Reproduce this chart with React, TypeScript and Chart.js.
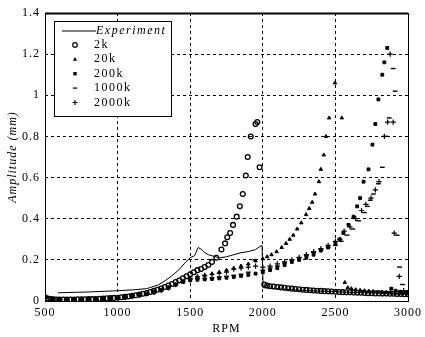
import React, { useEffect, useRef } from 'react';
import { Chart, registerables } from 'chart.js';

Chart.register(...registerables);

type Pt = [number, number];

const xTicks = [500, 1000, 1500, 2000, 2500, 3000];
const yTicks = [0, 0.2, 0.4, 0.6, 0.8, 1, 1.2, 1.4];
const seriesNames = ['Experiment', '2k', '20k', '200k', '1000k', '2000k'];

const experiment: Pt[] = [
  [590, 0.04], [700, 0.042], [800, 0.044], [900, 0.047], [1000, 0.05], [1100, 0.054], [1200, 0.06],
  [1280, 0.078], [1330, 0.1], [1370, 0.12], [1420, 0.15], [1470, 0.19], [1500, 0.21], [1530, 0.22],
  [1555, 0.26], [1580, 0.25], [1600, 0.235], [1625, 0.225], [1650, 0.22], [1700, 0.21], [1750, 0.215],
  [1800, 0.225], [1850, 0.235], [1900, 0.24], [1950, 0.25], [1980, 0.265], [1995, 0.27], [2002, 0.065],
  [2100, 0.06], [2200, 0.055], [2300, 0.05], [2400, 0.048], [2500, 0.045], [2600, 0.042], [2700, 0.04],
  [2800, 0.038], [2900, 0.035], [3000, 0.033],
];

const s2k: Pt[] = [
  [500, 0.018], [520, 0.012], [540, 0.009], [560, 0.008], [580, 0.007], [600, 0.007], [625, 0.007],
  [650, 0.007], [675, 0.007], [700, 0.007], [725, 0.008], [750, 0.008], [775, 0.008], [800, 0.009],
  [825, 0.009], [850, 0.01], [875, 0.011], [900, 0.012], [925, 0.013], [950, 0.014], [975, 0.015],
  [1000, 0.016], [1025, 0.018], [1050, 0.02], [1075, 0.022], [1100, 0.025], [1125, 0.028], [1150, 0.031],
  [1175, 0.035], [1200, 0.039], [1225, 0.044], [1250, 0.049], [1275, 0.055], [1300, 0.061], [1325, 0.068],
  [1350, 0.075], [1375, 0.083], [1400, 0.092], [1425, 0.1], [1450, 0.11], [1475, 0.12], [1500, 0.13],
  [1525, 0.14], [1550, 0.15], [1575, 0.155], [1600, 0.165], [1625, 0.175], [1650, 0.19], [1680, 0.21],
  [1715, 0.25], [1740, 0.28], [1755, 0.31], [1775, 0.33], [1795, 0.37], [1820, 0.41], [1842, 0.46],
  [1862, 0.52], [1883, 0.61], [1896, 0.7], [1917, 0.8], [1950, 0.86], [1962, 0.87], [1978, 0.65],
  [2010, 0.08], [2030, 0.075], [2050, 0.072], [2075, 0.07], [2100, 0.068], [2125, 0.066], [2150, 0.064],
  [2175, 0.062], [2200, 0.06], [2225, 0.058], [2250, 0.057], [2275, 0.055], [2300, 0.054], [2325, 0.052],
  [2350, 0.051], [2375, 0.05], [2400, 0.049], [2425, 0.048], [2450, 0.047], [2475, 0.046], [2500, 0.045],
  [2525, 0.044], [2550, 0.043], [2575, 0.042], [2600, 0.042], [2625, 0.041], [2650, 0.04], [2675, 0.04],
  [2700, 0.039], [2725, 0.038], [2750, 0.038], [2775, 0.037], [2800, 0.037], [2825, 0.036], [2850, 0.036],
  [2875, 0.035], [2900, 0.035], [2925, 0.034], [2950, 0.034], [2975, 0.033], [3000, 0.033],
];

const s20k: Pt[] = [
  [500, 0.012], [550, 0.006], [600, 0.005], [650, 0.005], [700, 0.005], [750, 0.005], [800, 0.006],
  [850, 0.008], [900, 0.01], [950, 0.012], [1000, 0.015], [1050, 0.018], [1100, 0.022], [1150, 0.027],
  [1200, 0.033], [1250, 0.04], [1300, 0.05], [1350, 0.062], [1400, 0.078], [1450, 0.095], [1500, 0.11],
  [1550, 0.118], [1600, 0.125], [1650, 0.132], [1700, 0.14], [1750, 0.15], [1800, 0.16], [1850, 0.17],
  [1900, 0.18], [1950, 0.195], [2000, 0.205], [2030, 0.215], [2060, 0.225], [2095, 0.24], [2130, 0.26],
  [2160, 0.28], [2185, 0.3], [2210, 0.32], [2237, 0.35], [2265, 0.38], [2298, 0.42], [2320, 0.45],
  [2340, 0.48], [2360, 0.52], [2387, 0.58], [2400, 0.64], [2420, 0.71], [2435, 0.8], [2457, 0.89],
  [2497, 1.06], [2544, 0.89], [2565, 0.09], [2585, 0.065], [2610, 0.06], [2640, 0.055], [2670, 0.052],
  [2700, 0.05], [2730, 0.048], [2760, 0.046], [2790, 0.044], [2820, 0.043], [2850, 0.042], [2880, 0.04],
  [2910, 0.039], [2940, 0.038], [2970, 0.037], [3000, 0.036],
];

const s200k: Pt[] = [
  [500, 0.02], [550, 0.009], [600, 0.007], [650, 0.006], [700, 0.006], [750, 0.007], [800, 0.008],
  [850, 0.009], [900, 0.011], [950, 0.013], [1000, 0.016], [1050, 0.02], [1100, 0.024], [1150, 0.029],
  [1200, 0.035], [1250, 0.043], [1300, 0.053], [1350, 0.065], [1400, 0.08], [1450, 0.092], [1500, 0.1],
  [1550, 0.103], [1600, 0.105], [1650, 0.107], [1700, 0.11], [1750, 0.113], [1800, 0.117], [1850, 0.122],
  [1900, 0.127], [1950, 0.133], [2000, 0.14], [2050, 0.15], [2100, 0.16], [2150, 0.175], [2200, 0.19],
  [2250, 0.2], [2300, 0.21], [2350, 0.225], [2400, 0.245], [2450, 0.26], [2500, 0.28], [2530, 0.3],
  [2555, 0.33], [2590, 0.37], [2625, 0.41], [2650, 0.46], [2670, 0.5], [2694, 0.58], [2728, 0.64],
  [2755, 0.76], [2775, 0.86], [2796, 0.98], [2823, 1.1], [2837, 1.16], [2857, 1.23], [2885, 0.06],
  [2915, 0.05], [2945, 0.045], [2975, 0.04], [3000, 0.038],
];

const s1000k: Pt[] = [
  [500, 0.015], [550, 0.008], [600, 0.006], [650, 0.006], [700, 0.006], [750, 0.006], [800, 0.007],
  [850, 0.009], [900, 0.011], [950, 0.013], [1000, 0.017], [1050, 0.021], [1100, 0.025], [1150, 0.03],
  [1200, 0.036], [1250, 0.044], [1300, 0.055], [1350, 0.067], [1400, 0.082], [1450, 0.094], [1500, 0.104],
  [1550, 0.108], [1600, 0.11], [1650, 0.113], [1700, 0.117], [1750, 0.12], [1800, 0.125], [1850, 0.13],
  [1900, 0.14], [1944, 0.2], [2000, 0.15], [2050, 0.16], [2100, 0.17], [2150, 0.185], [2200, 0.2],
  [2250, 0.21], [2300, 0.22], [2350, 0.235], [2400, 0.25], [2450, 0.26], [2500, 0.27], [2540, 0.29],
  [2580, 0.32], [2620, 0.35], [2660, 0.39], [2700, 0.43], [2720, 0.46], [2740, 0.49], [2762, 0.52],
  [2796, 0.57], [2823, 0.65], [2850, 0.8], [2871, 0.89], [2898, 1.13], [2911, 1.02], [2925, 0.32],
  [2942, 0.165], [2962, 0.08], [2985, 0.05], [3000, 0.045],
];

const s2000k: Pt[] = [
  [500, 0.016], [550, 0.008], [600, 0.006], [650, 0.005], [700, 0.005], [750, 0.006], [800, 0.007],
  [850, 0.008], [900, 0.01], [950, 0.012], [1000, 0.015], [1050, 0.019], [1100, 0.023], [1150, 0.028],
  [1200, 0.034], [1250, 0.042], [1300, 0.052], [1350, 0.064], [1400, 0.079], [1450, 0.096], [1500, 0.11],
  [1550, 0.118], [1600, 0.125], [1650, 0.13], [1700, 0.135], [1750, 0.14], [1800, 0.155], [1850, 0.16],
  [1900, 0.165], [1950, 0.17], [2000, 0.165], [2050, 0.17], [2100, 0.18], [2150, 0.19], [2200, 0.2],
  [2250, 0.212], [2300, 0.225], [2350, 0.24], [2400, 0.255], [2450, 0.27], [2500, 0.29], [2530, 0.3],
  [2560, 0.34], [2600, 0.36], [2640, 0.4], [2680, 0.44], [2710, 0.47], [2745, 0.5], [2775, 0.54],
  [2800, 0.58], [2837, 0.8], [2860, 0.87], [2877, 1.2], [2898, 0.87], [2905, 0.33], [2940, 0.12],
  [2970, 0.05], [3000, 0.04],
];

const toXY = (pts: Pt[]) => pts.map(([x, y]) => ({ x, y }));

const fmtY = (v: number) => String(Number(v.toFixed(1)));

function drawMarker(ctx: CanvasRenderingContext2D, kind: string, x: number, y: number) {
  ctx.save();
  ctx.strokeStyle = '#000';
  ctx.fillStyle = '#000';
  ctx.lineWidth = 1.2;
  ctx.beginPath();
  if (kind === 'circle') {
    ctx.arc(x, y, 2.3, 0, Math.PI * 2);
    ctx.stroke();
  } else if (kind === 'triangle') {
    ctx.moveTo(x, y - 2.2);
    ctx.lineTo(x + 2, y + 1.4);
    ctx.lineTo(x - 2, y + 1.4);
    ctx.closePath();
    ctx.fill();
  } else if (kind === 'rect') {
    ctx.fillRect(x - 1.7, y - 1.7, 3.4, 3.4);
  } else if (kind === 'line') {
    ctx.moveTo(x - 2.2, y);
    ctx.lineTo(x + 2.2, y);
    ctx.stroke();
  } else if (kind === 'cross') {
    ctx.moveTo(x - 2.5, y);
    ctx.lineTo(x + 2.5, y);
    ctx.moveTo(x, y - 2.5);
    ctx.lineTo(x, y + 2.5);
    ctx.stroke();
  }
  ctx.restore();
}

const markerKinds = ['line', 'circle', 'triangle', 'rect', 'line', 'cross'];

const spacingPlugin = {
  id: 'spacing',
  beforeDraw(chart: any) {
    try { (chart.ctx as any).letterSpacing = '1px'; } catch (e) { /* ignore */ }
  },
};

const framePlugin = {
  id: 'frameLegend',
  afterDatasetsDraw(chart: any) {
    const ctx: CanvasRenderingContext2D = chart.ctx;
    const a = chart.chartArea;
    ctx.save();
    ctx.strokeStyle = '#000';
    ctx.lineWidth = 1;
    const l = Math.round(a.left), t = Math.round(a.top), r = Math.round(a.right), b = Math.round(a.bottom);
    ctx.strokeRect(l + 0.5, t + 0.5, r - l, b - t);
    ctx.lineWidth = 2;
    ctx.beginPath();
    ctx.moveTo(l, t + 0.5);
    ctx.lineTo(r, t + 0.5);
    ctx.stroke();

    const lx = l + 9, ly = t + 8, lw = 117, lh = 95;
    ctx.fillStyle = '#fff';
    ctx.fillRect(lx, ly, lw, lh);
    ctx.lineWidth = 1;
    ctx.strokeRect(lx + 0.5, ly + 0.5, lw, lh);

    (ctx as any).letterSpacing = '1.5px';
    ctx.textBaseline = 'middle';
    ctx.textAlign = 'left';
    ctx.fillStyle = '#000';
    seriesNames.forEach((name, i) => {
      const y = ly + 9.5 + i * 14.4;
      if (i === 0) {
        ctx.beginPath();
        ctx.moveTo(lx + 8, y + 0.5);
        ctx.lineTo(lx + 42, y + 0.5);
        ctx.stroke();
        ctx.font = 'italic 12px "Liberation Serif"';
        ctx.fillText(name, lx + 42, y);
      } else {
        drawMarker(ctx, markerKinds[i], lx + 21, y);
        ctx.font = '12px "Liberation Serif"';
        ctx.fillText(name, lx + 40, y);
      }
    });
    ctx.restore();
  },
};

export default function App() {
  const ref = useRef<HTMLCanvasElement | null>(null);

  useEffect(() => {
    document.body.style.margin = '0';
    const canvas = ref.current;
    if (!canvas) return;
    const pointDs = (label: string, pts: Pt[], style: string, radius: number, filled: boolean, bw: number) => ({
      label,
      data: toXY(pts),
      showLine: false,
      pointStyle: style,
      pointRadius: radius,
      pointBorderWidth: bw,
      borderColor: '#000',
      pointBorderColor: '#000',
      pointBackgroundColor: filled ? '#000' : 'rgba(0,0,0,0)',
      backgroundColor: filled ? '#000' : 'rgba(0,0,0,0)',
    });
    const chart = new Chart(canvas, {
      type: 'scatter',
      data: {
        datasets: [
          {
            label: seriesNames[0],
            data: toXY(experiment),
            showLine: true,
            borderColor: '#000',
            borderWidth: 1,
            pointRadius: 0,
            tension: 0,
          } as any,
          pointDs(seriesNames[1], s2k, 'circle', 2.4, false, 1.3),
          pointDs(seriesNames[2], s20k, 'triangle', 2, true, 1),
          pointDs(seriesNames[3], s200k, 'rect', 2, true, 1),
          pointDs(seriesNames[4], s1000k, 'line', 2.4, true, 1.4),
          pointDs(seriesNames[5], s2000k, 'cross', 2.6, true, 1.2),
        ],
      },
      options: {
        animation: false,
        responsive: false,
        devicePixelRatio: 1,
        layout: { padding: { top: 13, right: 13, bottom: 0, left: 0 } },
        plugins: { legend: { display: false }, tooltip: { enabled: false } },
        scales: {
          x: {
            type: 'linear',
            min: 500,
            max: 3000,
            afterBuildTicks: (s: any) => { s.ticks = xTicks.map((v) => ({ value: v })); },
            afterFit: (s: any) => { s.height = 36; },
            grid: { color: '#000', lineWidth: 1, drawTicks: false },
            border: { display: false, dash: [3, 3] },
            ticks: {
              color: '#000',
              padding: 5,
              maxRotation: 0,
              font: { family: '"Liberation Serif"', size: 12 },
              callback: (v: any) => String(v),
            },
            title: {
              display: true,
              text: 'RPM',
              color: '#000',
              font: { family: '"Liberation Serif"', size: 12 },
              padding: { top: 0, bottom: 1 },
            },
          },
          y: {
            type: 'linear',
            min: 0,
            max: 1.4,
            afterBuildTicks: (s: any) => { s.ticks = yTicks.map((v) => ({ value: v })); },
            afterFit: (s: any) => { s.width = 45; },
            grid: { color: '#000', lineWidth: 1, drawTicks: false },
            border: { display: false, dash: [3, 3] },
            ticks: {
              color: '#000',
              padding: 5,
              font: { family: '"Liberation Serif"', size: 12 },
              callback: (v: any) => fmtY(Number(v)),
            },
            title: {
              display: true,
              text: 'Amplitude (mm)',
              color: '#000',
              font: { family: '"Liberation Serif"', size: 12, style: 'italic' },
              padding: { top: 6, bottom: 0 },
            },
          },
        },
      } as any,
      plugins: [spacingPlugin, framePlugin],
    });
    return () => chart.destroy();
  }, []);

  return (
    <div style={{ position: 'absolute', left: 0, top: 0, width: 425, height: 337, background: '#fff' }}>
      <canvas ref={ref} width={425} height={337} style={{ display: 'block' }} />
    </div>
  );
}
